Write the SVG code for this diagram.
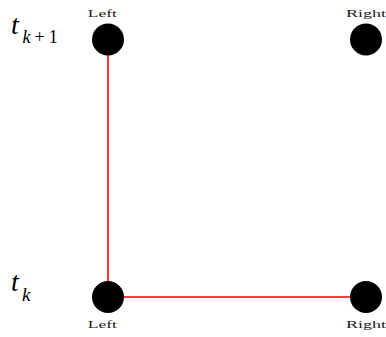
<svg xmlns="http://www.w3.org/2000/svg" width="386" height="337" viewBox="0 0 386 337">
<style>
.node{fill:#000}
.lbl{font-family:"Liberation Serif",serif;font-size:10.5px;fill:#222;text-anchor:middle}
.math{font-family:"Liberation Serif",serif;fill:#000}
.edge{stroke:#ff0000;stroke-width:1.6;fill:none}
</style>
<rect width="386" height="337" fill="#fff"/>
<g id="connectors">
<line class="edge" x1="108" y1="40" x2="108" y2="297"/>
<line class="edge" x1="108" y1="297" x2="366" y2="297"/>
</g>
<g id="tk1">
<text class="math" x="11" y="33.5" font-size="28" font-style="italic">t</text>
<text class="math" x="22.5" y="43" font-size="18"><tspan font-style="italic">k</tspan><tspan dx="4">+</tspan><tspan dx="4">1</tspan></text>
</g>
<g id="tk">
<text class="math" x="11" y="291" font-size="28" font-style="italic">t</text>
<text class="math" x="22" y="301" font-size="19" font-style="italic">k</text>
</g>
<g id="top-left">
<circle class="node" cx="108" cy="39.5" r="16"/>
<text class="lbl" x="102.3" y="16.8" textLength="29" lengthAdjust="spacingAndGlyphs">Left</text>
</g>
<g id="top-right">
<circle class="node" cx="366" cy="39.5" r="16"/>
<text class="lbl" x="366" y="16.8" textLength="40" lengthAdjust="spacingAndGlyphs">Right</text>
</g>
<g id="bottom-left">
<circle class="node" cx="108" cy="297" r="16"/>
<text class="lbl" x="102.3" y="328.3" textLength="29" lengthAdjust="spacingAndGlyphs">Left</text>
</g>
<g id="bottom-right">
<circle class="node" cx="366" cy="297" r="16"/>
<text class="lbl" x="366" y="328" textLength="40" lengthAdjust="spacingAndGlyphs">Right</text>
</g>
</svg>
